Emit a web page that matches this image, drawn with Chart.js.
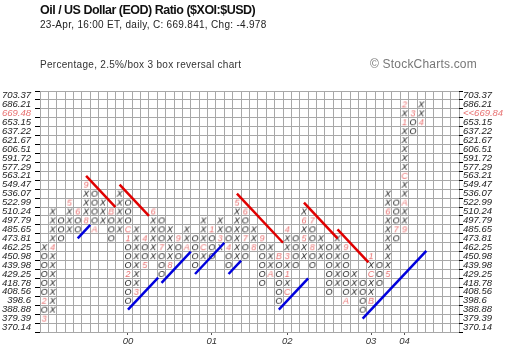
<!DOCTYPE html>
<html>
<head>
<meta charset="utf-8">
<script src="https://cdn.jsdelivr.net/npm/chart.js@4.4.1/dist/chart.umd.min.js"></script>
<style>
body { margin: 0; background: #fff; }
#wrap { position: relative; width: 520px; height: 360px; overflow: hidden; font-family: "Liberation Sans", Arial, sans-serif; }
#pf { position: absolute; left: 0; top: 0; }
.t { position: absolute; white-space: nowrap; }
#title { left: 40px; top: 3px; font-weight: bold; font-size: 12.5px; letter-spacing: -0.5px; color: #111; }
#sub { left: 40px; top: 19px; font-size: 10px; color: #222; letter-spacing: 0.3px; }
#kind { left: 40px; top: 59px; font-size: 10px; color: #333; letter-spacing: 0.3px; }
#copy { left: 370px; top: 57px; font-size: 12px; letter-spacing: 0.2px; color: #777; }
</style>
</head>
<body>
<div id="wrap">
<canvas id="pf" width="520" height="360"></canvas>
<div class="t" id="title">Oil / US Dollar (EOD) Ratio ($XOI:$USD)</div>
<div class="t" id="sub">23-Apr, 16:00 ET, daily, C: 669.841, Chg: -4.978</div>
<div class="t" id="kind">Percentage, 2.5%/box 3 box reversal chart</div>
<div class="t" id="copy">&copy; StockCharts.com</div>
</div>
<script>
"use strict";

// box levels, bottom to top
const priceLevels = [370.14, 379.39, 388.88, 398.6, 408.56, 418.78, 429.25, 439.98, 450.98,
	462.25, 473.81, 485.65, 497.79, 510.24, 522.99, 536.07, 549.47, 563.21, 577.29,
	591.72, 606.51, 621.67, 637.22, 653.15, 669.48, 686.21, 703.37];
const lastPrice = 669.84;
const lastLevel = 669.48;

// one entry per column
const columnTypes = ["O","X","O","X","O","X","O","X","O","X","O","X","O","X","O","X","O","X","O","X",
	"O","X","O","X","O","X","O","X","O","X","O","X","O","X","O","X","O","X","O","X",
	"O","X","O","X","O","X"];
const columnHigh = [450.98, 510.24, 497.79, 522.99, 510.24, 549.47, 536.07, 522.99, 510.24, 536.07,
	522.99, 485.65, 473.81, 510.24, 497.79, 485.65, 473.81, 485.65, 473.81, 497.79,
	485.65, 497.79, 485.65, 522.99, 510.24, 485.65, 473.81, 462.25, 450.98, 485.65,
	473.81, 510.24, 497.79, 473.81, 462.25, 473.81, 462.25, 429.25, 418.78, 450.98,
	439.98, 536.07, 522.99, 686.21, 669.48, 686.21];
const columnLow = [379.39, 388.88, 473.81, 485.65, 485.65, 497.79, 485.65, 497.79, 473.81, 485.65,
	398.6, 408.56, 439.98, 450.98, 429.25, 439.98, 450.98, 462.25, 439.98, 450.98,
	450.98, 462.25, 439.98, 450.98, 450.98, 462.25, 418.78, 429.25, 398.6, 408.56,
	439.98, 450.98, 439.98, 450.98, 408.56, 418.78, 398.6, 408.56, 388.88, 398.6,
	418.78, 429.25, 473.81, 485.65, 637.22, 653.15];

// month markers (1-9, A-C) that replace a box
const monthCols = [0, 0, 1, 3, 4, 5, 5, 6, 8, 10, 10, 10, 11, 12, 12, 13, 14, 15, 16, 17,
	19, 20, 21, 22, 23, 24, 24, 25, 26, 27, 28, 29, 29, 29, 29, 31, 31, 32, 32,
	36, 36, 39, 39, 39, 41, 41, 42, 43, 43, 43, 43, 43, 44, 45];
const monthPrices = [398.6, 379.39, 462.25, 522.99, 510.24, 497.79, 549.47, 485.65, 510.24, 485.65,
	473.81, 429.25, 408.56, 473.81, 439.98, 510.24, 462.25, 439.98, 473.81, 462.25,
	462.25, 485.65, 473.81, 462.25, 522.99, 510.24, 473.81, 462.25, 473.81, 429.25,
	450.98, 408.56, 429.25, 450.98, 485.65, 473.81, 497.79, 497.79, 462.25,
	462.25, 398.6, 398.6, 429.25, 450.98, 429.25, 510.24, 485.65, 485.65, 522.99,
	563.21, 653.15, 686.21, 669.48, 653.15];
const monthMarks = ["2", "3", "4", "5", "6", "8", "9", "A", "B", "C", "1", "2", "3", "4", "5", "6", "7", "8", "9", "A",
	"C", "1", "3", "4", "5", "6", "7", "8", "9", "A", "B", "C", "1", "3", "4", "5", "6", "7", "8",
	"9", "A", "B", "C", "1", "5", "6", "7", "9", "A", "C", "1", "2", "3", "4"];

// lone box at the start of the chart
const extraCols = [0];
const extraPrices = [462.25];
const extraMarks = ["X"];

const yearCols = [10, 20, 29, 39, 43];
const yearLabels = ["00", "01", "02", "03", "04"];

// trend lines: [start column, start level, end column, end level]
const resistanceLines = [[5, 17, 8.5, 13.5], [9, 16, 12.5, 12.5], [23, 15, 28.5, 9.5], [31, 14, 35, 10], [35, 11, 38.7, 7.3]];
const supportLines = [[4, 10, 5.5, 11.5], [10, 2, 13.6, 5.6], [14, 5, 17.5, 8.5], [18, 6, 21.5, 9.5],
	[22, 6, 23.5, 7.5], [28, 2, 31.5, 5.5], [38, 1, 45.6, 8.6]];

const NCOLS = 50;
const NROWS = priceLevels.length;

let glyphs = {};
function glyph(ch, color) {
	let key = ch + color;
	if (glyphs[key]) return glyphs[key];
	let c = document.createElement("canvas");
	c.width = 10;
	c.height = 10;
	let g = c.getContext("2d");
	g.font = "italic 9px 'Liberation Sans', Arial, sans-serif";
	g.fillStyle = color;
	g.textAlign = "center";
	g.textBaseline = "middle";
	g.fillText(ch, 5, 5.5);
	glyphs[key] = c;
	return c;
}

const INK = "#1a1a1a";
const RED = "#e87272";

let boxPoints = [];
let boxStyles = [];
columnTypes.forEach((type, c) => {
	let lo = priceLevels.indexOf(columnLow[c]);
	let hi = priceLevels.indexOf(columnHigh[c]);
	for (let k = lo; k <= hi; k++) {
		let m = monthCols.findIndex((mc, i) => mc === c && monthPrices[i] === priceLevels[k]);
		boxPoints.push({ x: c + 0.5, y: k + 0.5 });
		boxStyles.push(m >= 0 ? glyph(monthMarks[m], RED) : glyph(type, INK));
	}
});
extraCols.forEach((c, i) => {
	boxPoints.push({ x: c + 0.5, y: priceLevels.indexOf(extraPrices[i]) + 0.5 });
	boxStyles.push(glyph(extraMarks[i], INK));
});

function lineSet(l, color) {
	return {
		type: "line",
		data: [{ x: l[0] + 0.5, y: l[1] + 0.5 }, { x: l[2] + 0.5, y: l[3] + 0.5 }],
		borderColor: color,
		borderWidth: 2.5,
		pointRadius: 0,
		fill: false,
	};
}

let datasets = [];
for (let l of resistanceLines) datasets.push(lineSet(l, "#e00000"));
for (let l of supportLines) datasets.push(lineSet(l, "#0000dd"));
datasets.push({
	type: "scatter",
	data: boxPoints,
	pointStyle: boxStyles,
	pointRadius: 4,
});

const gridColor = "#a8a8a8";
const labelFont = { family: "'Liberation Sans', Arial, sans-serif", size: 9.5, style: "italic" };
const levelTicks = (s) => { s.ticks = priceLevels.map((p, k) => ({ value: k + 0.5 })); };

function labelAxis(position, width, right) {
	return {
		type: "linear",
		position: position,
		min: 0,
		max: NROWS,
		afterBuildTicks: levelTicks,
		afterFit: (s) => { s.width = width; },
		ticks: {
			autoSkip: false,
			font: labelFont,
			padding: right ? 0 : 4,
			color: (ctx) => priceLevels[ctx.index] === lastLevel ? RED : "#222",
			callback: (v, i) => {
				if (priceLevels[i] === lastLevel) return right ? "<<" + lastPrice.toFixed(2) : String(priceLevels[i]);
				return String(priceLevels[i]);
			},
		},
		grid: { drawOnChartArea: false, offset: true, tickLength: right ? 4 : 5, color: "#000" },
		border: { display: false },
	};
}

new Chart(document.getElementById("pf"), {
	type: "scatter",
	data: { datasets: datasets },
	options: {
		responsive: false,
		animation: false,
		events: [],
		layout: { padding: { top: 91, left: 0, right: 0, bottom: 0 } },
		plugins: { legend: { display: false }, tooltip: { enabled: false } },
		scales: {
			x: {
				type: "linear", position: "bottom", min: 0, max: NCOLS,
				afterBuildTicks: (s) => { s.ticks = Array.from({ length: NCOLS + 1 }, (_, i) => ({ value: i })); },
				afterFit: (s) => { s.height = 0; },
				ticks: { display: false },
				grid: { color: gridColor, drawTicks: false },
				border: { display: false },
			},
			xl: {
				type: "linear", position: "bottom", min: 0, max: NCOLS,
				afterBuildTicks: (s) => { s.ticks = yearCols.map((c) => ({ value: c + 0.5 })); },
				afterFit: (s) => { s.height = 28; },
				ticks: { autoSkip: false, maxRotation: 0, font: labelFont, color: "#333", padding: 1,
					callback: (v, i) => yearLabels[i] },
				grid: { drawOnChartArea: false, tickLength: 3, color: "#555" },
				border: { display: false },
			},
			y: {
				type: "linear", position: "left", min: 0, max: NROWS,
				afterBuildTicks: (s) => { s.ticks = Array.from({ length: NROWS + 1 }, (_, i) => ({ value: i })); },
				afterFit: (s) => { s.width = 0; },
				ticks: { display: false },
				grid: { color: gridColor, drawTicks: false },
				border: { display: false },
			},
			yl: labelAxis("left", 40, false),
			yr: labelAxis("right", 61, true),
		},
	},
});
</script>
</body>
</html>
